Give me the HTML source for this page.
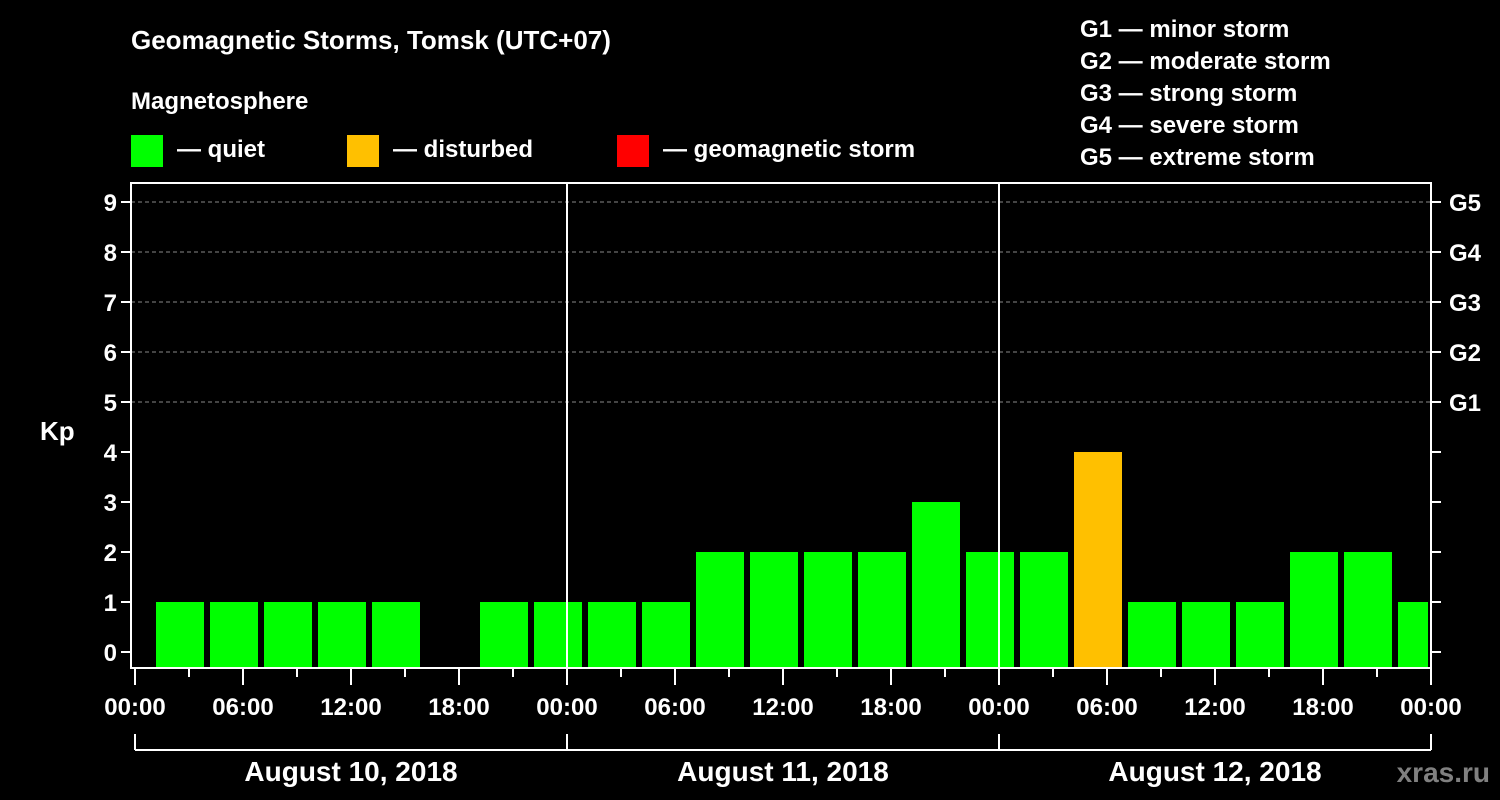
<!DOCTYPE html>
<html><head><meta charset="utf-8"><style>
html,body{margin:0;padding:0;background:#000;}
svg{display:block;font-family:"Liberation Sans",Arial,sans-serif;font-weight:bold;}
</style></head><body>
<svg id="chart" width="1500" height="800" viewBox="0 0 1500 800">
<rect x="0" y="0" width="1500" height="800" fill="#000"/>
<text x="131" y="49" fill="#fff" font-size="26">Geomagnetic Storms, Tomsk (UTC+07)</text>
<text x="131" y="109" fill="#fff" font-size="24">Magnetosphere</text>
<g><rect x="131" y="135" width="32" height="32" fill="#00ff00"/><text x="177" y="157" fill="#fff" font-size="24">— quiet</text></g>
<g><rect x="347" y="135" width="32" height="32" fill="#ffc000"/><text x="393" y="157" fill="#fff" font-size="24">— disturbed</text></g>
<g><rect x="617" y="135" width="32" height="32" fill="#ff0000"/><text x="663" y="157" fill="#fff" font-size="24">— geomagnetic storm</text></g>
<g fill="#fff" font-size="24">
<text x="1080" y="37">G1 — minor storm</text>
<text x="1080" y="69">G2 — moderate storm</text>
<text x="1080" y="101">G3 — strong storm</text>
<text x="1080" y="133">G4 — severe storm</text>
<text x="1080" y="165">G5 — extreme storm</text>
</g>
<text x="40" y="440" fill="#fff" font-size="26">Kp</text>
<text x="1490" y="782" fill="#808080" font-size="28" text-anchor="end">xras.ru</text>
<g id="plot"></g>
</svg>
<script>
const kpValues=[1,1,1,1,1,0,1,1, 1,1,2,2,2,2,3,2, 2,4,1,1,1,2,2,1];
const yTicks=[0,1,2,3,4,5,6,7,8,9];
const gLabels=["G1","G2","G3","G4","G5"];
const hourLabels=["00:00","06:00","12:00","18:00","00:00","06:00","12:00","18:00","00:00","06:00","12:00","18:00","00:00"];
const dateLabels=["August 10, 2018","August 11, 2018","August 12, 2018"];

const NS="http://www.w3.org/2000/svg";
const plot=document.getElementById('plot');
const X0=135,PX_H=18,Y0=652,PX_K=50,LEFT=131,RIGHT=1431,TOP=183,BOT=668;
const xH=h=>X0+h*PX_H;
const yK=k=>Y0-k*PX_K;
function mk(tag,attrs){const e=document.createElementNS(NS,tag);for(const k in attrs)e.setAttribute(k,attrs[k]);plot.appendChild(e);return e;}
// grid
[5,6,7,8,9].forEach(k=>{const l=mk('line',{x1:LEFT,x2:RIGHT,y1:yK(k),y2:yK(k),stroke:'#888','stroke-dasharray':'4,3','stroke-width':1});

});
// bars
kpValues.forEach((v,i)=>{if(v<=0)return;const h0=1+3*i;let x=xH(h0)+3;let w=48;if(x+w>RIGHT-3)w=RIGHT-3-x;
const c=v>=5?'#ff0000':(v>=4?'#ffc000':'#00ff00');
const r=mk('rect',{x:x,y:yK(v),width:w,height:BOT-yK(v),fill:c});

});
// day separators
[1,2].forEach(d=>{const l=mk('line',{x1:xH(24*d),x2:xH(24*d),y1:TOP,y2:BOT,stroke:'#fff','stroke-width':2});

});
// frame
const f=mk('rect',{x:LEFT,y:TOP,width:RIGHT-LEFT,height:BOT-TOP,fill:'none',stroke:'#fff','stroke-width':2});


// y ticks
yTicks.forEach(k=>{const y=yK(k);mk('line',{x1:LEFT-10,x2:LEFT,y1:y,y2:y,stroke:'#fff','stroke-width':2});
mk('line',{x1:RIGHT,x2:RIGHT+10,y1:y,y2:y,stroke:'#fff','stroke-width':2});
const t=mk('text',{x:LEFT-14,y:y+9,fill:'#fff','font-size':24,'text-anchor':'end'});t.textContent=k;

});
gLabels.forEach((g,i)=>{const t=mk('text',{x:RIGHT+18,y:yK(5+i)+9,fill:'#fff','font-size':24});t.textContent=g;

});
// x ticks
for(let h=0;h<=72;h+=3){const major=h%6===0;mk('line',{x1:xH(h),x2:xH(h),y1:BOT,y2:BOT+(major?17:9),stroke:'#fff','stroke-width':2});}
hourLabels.forEach((s,i)=>{const t=mk('text',{x:xH(6*i),y:715,fill:'#fff','font-size':24,'text-anchor':'middle'});t.textContent=s;

});
// date brackets
mk('line',{x1:xH(0),x2:xH(72),y1:750,y2:750,stroke:'#fff','stroke-width':2});
for(let d=0;d<=3;d++)mk('line',{x1:xH(24*d),x2:xH(24*d),y1:734,y2:750,stroke:'#fff','stroke-width':2});
dateLabels.forEach((s,i)=>{const t=mk('text',{x:xH(24*i+12),y:781,fill:'#fff','font-size':28,'text-anchor':'middle'});t.textContent=s;

});
</script>
</body></html>
